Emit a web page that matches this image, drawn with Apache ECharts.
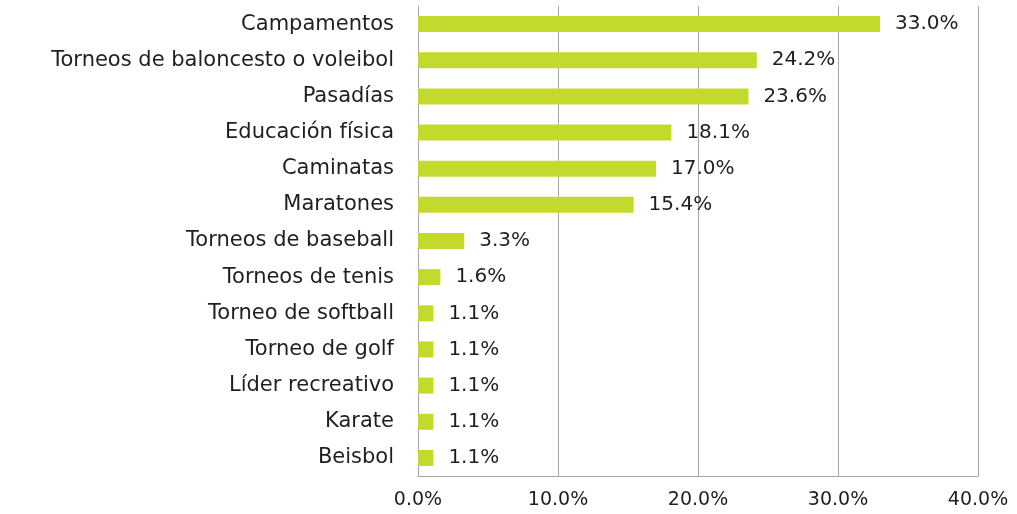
<!DOCTYPE html>
<html>
<head>
<meta charset="utf-8">
<script src="https://cdn.jsdelivr.net/npm/echarts@6/dist/echarts.min.js"></script>
<style>
  html, body { margin: 0; padding: 0; background: #fff; }
  #chart { width: 1017px; height: 514px; }
</style>
</head>
<body>
<div id="chart"></div>
<script>
// Activities, listed top to bottom
const categories = [
  'Campamentos',
  'Torneos de baloncesto o voleibol',
  'Pasadías',
  'Educación física',
  'Caminatas',
  'Maratones',
  'Torneos de baseball',
  'Torneos de tenis',
  'Torneo de softball',
  'Torneo de golf',
  'Líder recreativo',
  'Karate',
  'Beisbol'
];
// Share of respondents (%)
const values = [33.0, 24.2, 23.6, 18.1, 17.0, 15.4, 3.3, 1.6, 1.1, 1.1, 1.1, 1.1, 1.1];
const xTicks = { min: 0, max: 40, interval: 10 };

const FONT = '"DejaVu Sans", sans-serif';
const chart = echarts.init(document.getElementById('chart'));
chart.setOption({
  animation: false,
  grid: { left: 418, right: 39, top: 6, bottom: 38, containLabel: false },
  xAxis: {
    type: 'value',
    min: xTicks.min, max: xTicks.max, interval: xTicks.interval,
    axisLine: { show: true, lineStyle: { color: '#a6a6a6', width: 1 } },
    axisTick: { show: false },
    splitLine: { show: true, lineStyle: { color: '#a6a6a6', width: 1 } },
    axisLabel: {
      formatter: v => v.toFixed(1) + '%',
      fontFamily: FONT, fontSize: 19, color: '#1f1f1f', margin: 15
    }
  },
  yAxis: {
    type: 'category',
    inverse: true,
    data: categories,
    axisLine: { show: true, lineStyle: { color: '#a6a6a6', width: 1 } },
    axisTick: { show: false },
    axisLabel: { fontFamily: FONT, fontSize: 21, color: '#1f1f1f', margin: 24 }
  },
  series: [{
    type: 'bar',
    data: values,
    barWidth: 16,
    itemStyle: { color: '#c4d92e' },
    label: {
      show: true, position: 'right', distance: 15,
      formatter: p => p.value.toFixed(1) + '%',
      fontFamily: FONT, fontSize: 20, color: '#1f1f1f'
    }
  }]
});
</script>
</body>
</html>
